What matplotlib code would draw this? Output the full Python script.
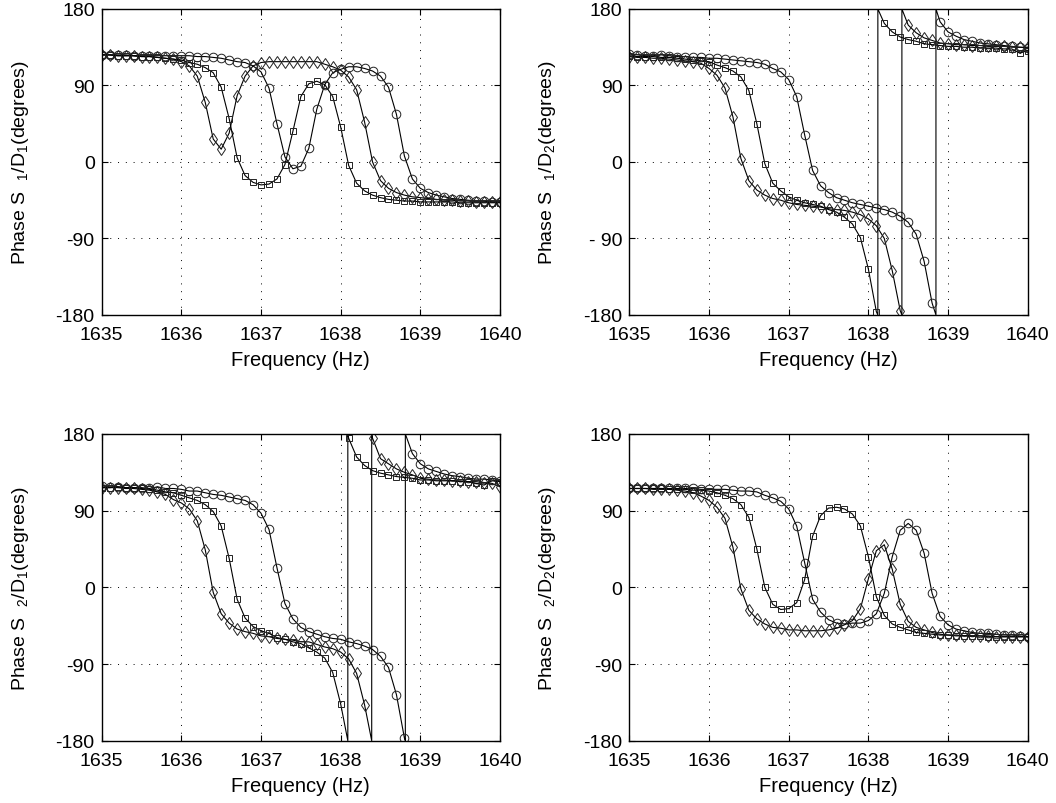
import numpy as np
import matplotlib
matplotlib.use("Agg")
import matplotlib.pyplot as plt

plt.rcParams['font.family'] = ['Liberation Sans', 'DejaVu Sans']
plt.rcParams['mathtext.fontset'] = 'custom'
plt.rcParams['mathtext.rm'] = 'Liberation Sans'
plt.rcParams['mathtext.it'] = 'Liberation Sans'

# frequency grid of the markers, 0.1 Hz steps
freq = np.round(1635 + 0.1 * np.arange(51), 1)

# ---- Phase S1/D1 ----
s1d1_circ = [126, 126, 126, 126, 125, 125, 125, 125, 125, 125,
             125, 125, 124, 124, 123, 122, 120, 118, 117, 113,
             106, 87, 45, 6, -8, -5, 16, 62, 91, 105,
             109, 112, 112, 110, 107, 101, 88, 56, 7, -20,
             -31, -36, -39, -41, -43, -44, -45, -46, -46, -47, -47]
s1d1_diam = [126, 126, 125, 125, 125, 124, 124, 123, 122, 121,
             118, 113, 101, 70, 27, 15, 34, 78, 101, 113,
             117, 118, 118, 118, 118, 118, 118, 118, 115, 112,
             108, 100, 85, 47, 0, -22, -31, -36, -39, -41,
             -42, -43, -44, -45, -45, -46, -46, -47, -47, -47, -47]
s1d1_sq = [126, 126, 125, 125, 125, 124, 124, 123, 122, 121,
           120, 117, 115, 111, 105, 88, 51, 5, -16, -24,
           -27, -26, -20, -3, 36, 77, 92, 95, 91, 77,
           41, -4, -25, -34, -39, -42, -44, -45, -46, -46,
           -47, -47, -47, -47, -47, -48, -48, -48, -48, -48, -48]

# ---- Phase S1/D2 ----
s1d2_circ = [127, 126, 125, 125, 126, 125, 124, 124, 123, 123,
             122, 122, 121, 120, 119, 118, 117, 115, 110, 106,
             97, 77, 32, -10, -28, -36, -42, -45, -48, -50,
             -52, -54, -56, -59, -64, -71, -85, -117, -166, 165,
             153, 148, 144, 142, 140, 139, 138, 137, 136, 135, 134]
s1d2_diam = [124, 123, 123, 122, 122, 121, 120, 119, 118, 116,
             110, 102, 87, 53, 4, -22, -33, -39, -43, -45,
             -48, -50, -51, -52, -53, -55, -56, -57, -59, -62,
             -67, -75, -90, -128, -175, 161, 152, 146, 143, 140,
             139, 138, 138, 137, 137, 136, 136, 136, 135, 135, 135]
s1d2_sq = [125, 124, 124, 124, 123, 123, 122, 121, 120, 119,
           118, 114, 111, 107, 100, 84, 45, -2, -25, -34,
           -41, -45, -48, -50, -52, -56, -59, -65, -73, -89,
           -126, -176, 163, 153, 147, 144, 142, 139, 138, 137,
           136, 136, 135, 135, 134, 134, 134, 133, 133, 128, 131]

# ---- Phase S2/D1 ----
s2d1_circ = [119, 118, 118, 117, 117, 117, 116, 118, 116, 116,
             115, 113, 113, 111, 109, 108, 106, 104, 102, 97,
             87, 68, 23, -19, -37, -47, -52, -55, -58, -60,
             -61, -64, -66, -69, -73, -81, -94, -126, -177, 157,
             145, 139, 136, 133, 131, 130, 128, 127, 127, 126, 125]
s2d1_diam = [117, 117, 117, 116, 116, 115, 114, 112, 109, 103,
             99, 92, 78, 44, -6, -31, -42, -49, -52, -54,
             -57, -58, -60, -61, -62, -64, -64, -67, -70, -72,
             -76, -84, -101, -138, 175, 151, 145, 139, 135, 132,
             128, 127, 126, 126, 125, 125, 124, 124, 123, 122, 118]
s2d1_sq = [117, 117, 118, 117, 117, 116, 115, 114, 112, 111,
           108, 105, 102, 97, 89, 72, 34, -14, -36, -46,
           -51, -54, -59, -61, -64, -66, -71, -76, -83, -100,
           -137, 175, 153, 143, 137, 134, 132, 130, 129, 128,
           126, 126, 125, 125, 125, 124, 124, 122, 120, 125, 124]

# ---- Phase S2/D2 ----
s2d2_circ = [116, 116, 116, 116, 116, 116, 116, 116, 116, 115,
             115, 115, 115, 114, 113, 113, 112, 108, 105, 101,
             92, 72, 29, -14, -29, -38, -42, -43, -42, -42,
             -39, -31, -7, 36, 67, 75, 67, 40, -7, -34,
             -44, -49, -51, -53, -54, -54, -55, -56, -56, -57, -58]
s2d2_diam = [116, 116, 116, 115, 115, 115, 114, 113, 111, 107,
             102, 94, 81, 47, -2, -27, -37, -43, -47, -48,
             -50, -50, -51, -51, -51, -50, -48, -44, -39, -25,
             10, 43, 50, 21, -20, -40, -47, -50, -53, -55,
             -56, -56, -57, -57, -57, -57, -58, -58, -58, -58, -58]
s2d2_sq = [116, 116, 116, 116, 116, 115, 115, 115, 114, 114,
           113, 111, 108, 104, 97, 82, 45, 0, -20, -26,
           -25, -18, 9, 60, 84, 93, 94, 92, 86, 72,
           36, -11, -33, -43, -47, -50, -53, -54, -55, -56,
           -56, -57, -57, -57, -57, -58, -58, -58, -58, -58, -58]

panels = [
    ("1", "1", [s1d1_circ, s1d1_diam, s1d1_sq], "-90"),
    ("1", "2", [s1d2_circ, s1d2_diam, s1d2_sq], "- 90"),
    ("2", "1", [s2d1_circ, s2d1_diam, s2d1_sq], "-90"),
    ("2", "2", [s2d2_circ, s2d2_diam, s2d2_sq], "-90"),
]
markers = [("o", 6.2), ("d", 6.0), ("s", 5.0)]

# axes boxes in figure fractions (left, bottom, width, height)
boxes = [
    (0.0963, 0.607, 0.3772, 0.3806),
    (0.5960, 0.607, 0.3772, 0.3806),
    (0.0963, 0.0775, 0.3772, 0.3815),
    (0.5960, 0.0775, 0.3772, 0.3815),
]


def wrapped_line(x, v):
    # insert the +-180 jump as a vertical segment, as the phase wraps
    xs, ys = [x[0]], [v[0]]
    for i in range(len(v) - 1):
        d = v[i + 1] - v[i]
        if abs(d) > 180:
            nxt = v[i + 1] - 360 if d > 0 else v[i + 1] + 360
            edge = -180 if d > 0 else 180
            xc = x[i] + (edge - v[i]) / (nxt - v[i]) * (x[i + 1] - x[i])
            xs += [xc, xc]
            ys += [edge, -edge]
        xs.append(x[i + 1])
        ys.append(v[i + 1])
    return xs, ys


fig = plt.figure(figsize=(10.56, 8.04), dpi=100)

for (si, di, series, m90), box in zip(panels, boxes):
    ax = fig.add_axes(box)
    for vals, (mk, ms) in zip(series, markers):
        v = np.array(vals, dtype=float)
        lx, ly = wrapped_line(freq, v)
        ax.plot(lx, ly, color='black', lw=0.8)
        ax.plot(freq, v, ls='none', marker=mk, ms=ms, mfc='none',
                mec='#222222', mew=0.7)
    ax.set_xlim(1635, 1640)
    ax.set_ylim(-180, 180)
    ax.set_xticks([1635, 1636, 1637, 1638, 1639, 1640])
    ax.set_xticklabels(['1635', '1636', '1637', '1638', '1639', '1640'])
    ax.set_yticks([-180, -90, 0, 90, 180])
    ax.set_yticklabels(['-180', m90, '0', '90', '180'])
    ax.grid(True, ls=(0, (1, 7)), color='black', lw=0.7)
    ax.tick_params(direction='in', length=4, width=0.8, labelsize=14,
                   top=True, right=True)
    ax.tick_params(axis='x', pad=8)
    ax.tick_params(axis='y', pad=5)
    for sp in ax.spines.values():
        sp.set_linewidth(1.0)
    ax.set_xlabel('Frequency (Hz)', fontsize=14.5, labelpad=5)
    ax.set_ylabel('Phase S  $_{%s}$/D$_{%s}$(degrees)' % (si, di),
                  fontsize=14, labelpad=18)

fig.savefig('out.png', dpi=100)
